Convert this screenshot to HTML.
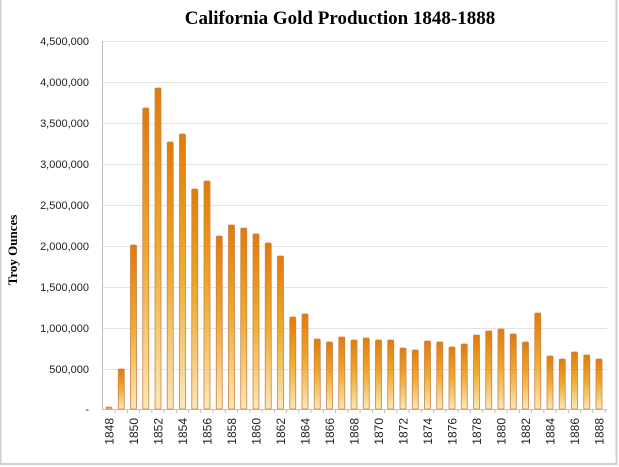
<!DOCTYPE html>
<html><head><meta charset="utf-8"><style>
html,body{margin:0;padding:0;background:#fff;}
svg{display:block;}
</style></head><body>
<svg width="619" height="467" viewBox="0 0 619 467" xmlns="http://www.w3.org/2000/svg">
<defs>
<linearGradient id="g" x1="0" y1="0" x2="0" y2="1">
<stop offset="0" stop-color="#e27a0c"/>
<stop offset="0.5" stop-color="#f0aa30"/>
<stop offset="1" stop-color="#fbe8b8"/>
</linearGradient>
</defs>
<rect x="0" y="0" width="619" height="467" fill="#fff"/>
<rect x="0.5" y="-2" width="616" height="466" fill="none" stroke="#cfcfcf" stroke-width="2"/>
<text x="340" y="24" font-family="Liberation Serif, serif" font-weight="bold" font-size="19" text-anchor="middle" fill="#000">California Gold Production 1848-1888</text>
<text transform="translate(17,250) rotate(-90)" font-family="Liberation Serif, serif" font-weight="bold" font-size="13" text-anchor="middle" fill="#000">Troy Ounces</text>
<g stroke="#e4e4e4" stroke-width="1">
<line x1="102" y1="41.5" x2="607" y2="41.5"/>
<line x1="102" y1="82.5" x2="607" y2="82.5"/>
<line x1="102" y1="123.5" x2="607" y2="123.5"/>
<line x1="102" y1="164.5" x2="607" y2="164.5"/>
<line x1="102" y1="205.5" x2="607" y2="205.5"/>
<line x1="102" y1="246.5" x2="607" y2="246.5"/>
<line x1="102" y1="287.5" x2="607" y2="287.5"/>
<line x1="102" y1="328.5" x2="607" y2="328.5"/>
<line x1="102" y1="369.5" x2="607" y2="369.5"/>
</g>
<line x1="102.5" y1="41" x2="102.5" y2="410" stroke="#bdbdbd"/>
<line x1="102" y1="409.5" x2="607" y2="409.5" stroke="#bdbdbd"/>
<g font-family="Liberation Sans, sans-serif" font-size="11" fill="#222" text-anchor="end">
<text x="89" y="45">4,500,000</text>
<text x="89" y="86">4,000,000</text>
<text x="89" y="127">3,500,000</text>
<text x="89" y="168">3,000,000</text>
<text x="89" y="209">2,500,000</text>
<text x="89" y="250">2,000,000</text>
<text x="89" y="291">1,500,000</text>
<text x="89" y="332">1,000,000</text>
<text x="89" y="373">500,000</text>
<text x="89" y="413">-</text>
</g>
<g id="bars" fill="url(#g)" stroke="#c9844a" stroke-width="0.8"></g>
<g id="ticks" stroke="#bdbdbd"></g>
<g id="labels" font-family="Liberation Sans, sans-serif" font-size="12" fill="#222"></g>
<script>
var tops=[407,369,245,108,88,142,134,189,181,236,225,228,234,243,256,317,314,339,342,337,340,338,340,340,348,350,341,342,347,344,335,331,329,334,342,313,356,359,352,355,359];
var b=document.getElementById('bars'),t=document.getElementById('ticks'),l=document.getElementById('labels');
var ns='http://www.w3.org/2000/svg';
for(var i=0;i<41;i++){
 var cx=109+i*12.25;
 var r=document.createElementNS(ns,'rect');
 r.setAttribute('x',cx-3);r.setAttribute('y',tops[i]);r.setAttribute('width',6);r.setAttribute('height',409-tops[i]);r.setAttribute('rx',1);
 b.appendChild(r);
 var tk=document.createElementNS(ns,'line');
 var tx=cx+6.1;
 tk.setAttribute('x1',tx);tk.setAttribute('x2',tx);tk.setAttribute('y1',409);tk.setAttribute('y2',413);
 t.appendChild(tk);
 if(i%2==0){
  var tx2=document.createElementNS(ns,'text');
  tx2.setAttribute('transform','translate('+(cx+4.5)+',418) rotate(-90)');
  tx2.setAttribute('text-anchor','end');
  tx2.textContent=String(1848+i);
  l.appendChild(tx2);
 }
}
</script>
</svg>
</body></html>
